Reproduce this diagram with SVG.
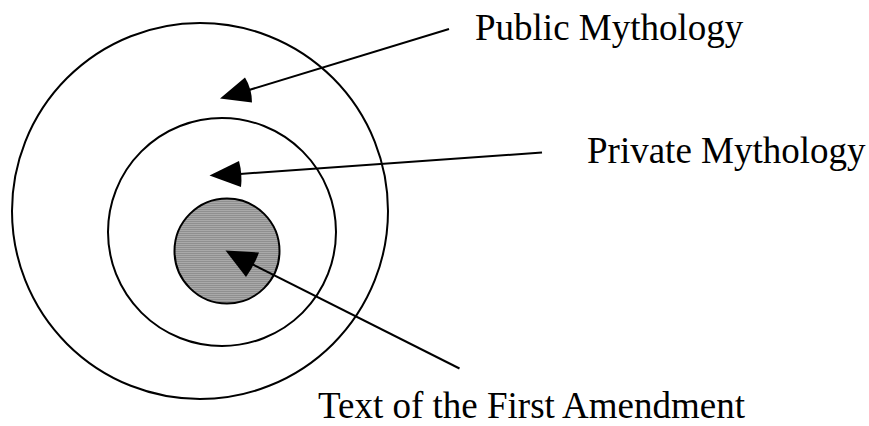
<svg xmlns="http://www.w3.org/2000/svg" width="869" height="426" viewBox="0 0 869 426">
<style>
.ring{fill:none;stroke:#000;stroke-width:2}
.core{fill:url(#stripes);stroke:#000;stroke-width:2}
.conn{stroke:#000;stroke-width:2;fill:none}
.head{fill:#000;stroke:none}
.lbl{font-family:"Liberation Serif","Times New Roman",serif;font-size:37px;fill:#000}
</style>
<defs>
<pattern id="stripes" width="4" height="2" patternUnits="userSpaceOnUse">
<rect width="4" height="2" fill="#8f8f8f"/>
<rect width="4" height="1" fill="#a9a9a9"/>
</pattern>
</defs>
<rect width="869" height="426" fill="#fff"/>
<g id="public-mythology">
<circle class="ring" cx="200" cy="211" r="188"/>
<text class="lbl" x="475" y="40">Public Mythology</text>
</g>
<g id="private-mythology">
<circle class="ring" cx="222" cy="232" r="114"/>
<text class="lbl" x="587" y="163">Private Mythology</text>
</g>
<g id="first-amendment">
<circle class="core" cx="227" cy="251" r="52.5"/>
<text class="lbl" x="318" y="418">Text of the First Amendment</text>
</g>
<g id="connectors">
<line class="conn" x1="449" y1="29" x2="249" y2="90"/>
<path class="head" d="M220,98.5 L245,77.5 Q252,89 252,102.5 Z"/>
<line class="conn" x1="542" y1="152.5" x2="240" y2="174"/>
<path class="head" d="M209.5,175.5 L239,161 Q242.5,174 241,187 Z"/>
<line class="conn" x1="459.5" y1="368.5" x2="252" y2="264"/>
<path class="head" d="M225.5,250.5 L259,252.5 Q254,266 246,277 Z"/>
</g>
</svg>
